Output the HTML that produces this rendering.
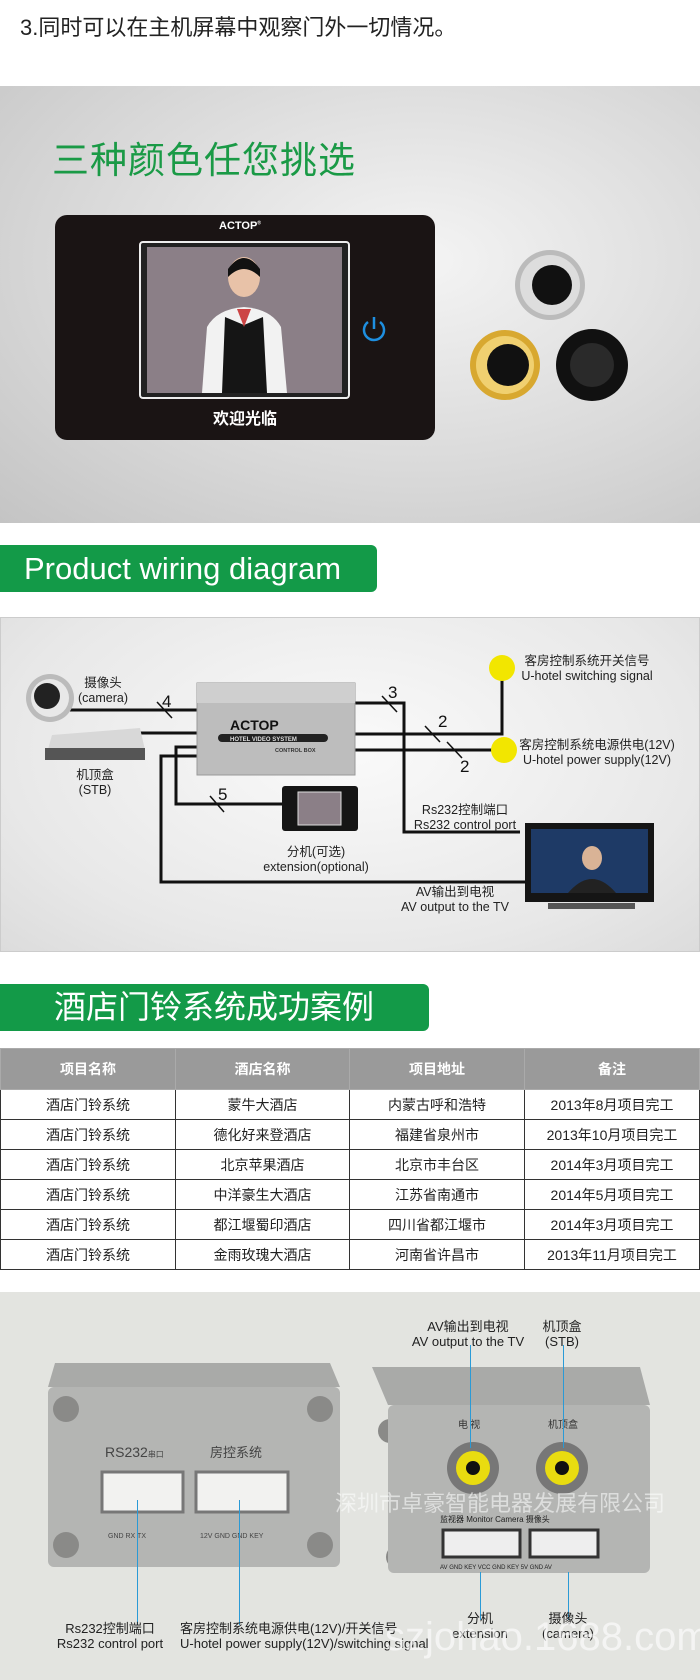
<!DOCTYPE html>
<html><head><meta charset="utf-8"><style>
*{margin:0;padding:0;box-sizing:border-box}
body{width:700px;height:1680px;background:#fff;position:relative;overflow:hidden;font-family:"Liberation Sans","Noto Sans CJK SC",sans-serif;color:#222}
.a{position:absolute}
.c{text-align:center;transform:translateX(-50%);white-space:nowrap}
.lbl{font-size:12.5px;line-height:14.5px;color:#222}
table{border-collapse:collapse;position:absolute;left:0;top:1048px;width:700px}
td,th{border:1px solid #333;text-align:center;font-size:14px;height:30px;font-weight:normal}
th{background:#9a9a9a;color:#fff;font-weight:bold;height:41px;border-color:#aaa;font-size:14px}
.blu{position:absolute;width:1px;background:#2a9ad6}
</style></head><body>
<div class="a" style="left:20px;top:10px;font-size:22px;color:#222">3.同时可以在主机屏幕中观察门外一切情况。</div>

<div class="a" style="left:0;top:86px;width:700px;height:437px;background:radial-gradient(ellipse at 60% 40%,#f4f4f4 0%,#d8d8d8 60%,#c4c4c4 100%)"></div>
<div class="a" style="left:52px;top:130px;font-size:37px;color:#1a9a46;letter-spacing:1px">三种颜色任您挑选</div>
<div class="a" style="left:55px;top:215px;width:380px;height:225px;background:#1a1414;border-radius:12px"></div>
<div class="a c" style="left:240px;top:220px;color:#fff;font-weight:bold;font-size:11px">ACTOP<sup style="font-size:5px">®</sup></div>
<div class="a" style="left:139px;top:241px;width:211px;height:158px;border:2px solid #eee;border-radius:4px;background:#222"></div>
<div class="a" style="left:147px;top:247px;width:195px;height:146px;background:#8b7f87"></div>
<svg class="a" style="left:147px;top:247px" width="195" height="146"><ellipse cx="97" cy="30" rx="16" ry="20" fill="#e8c2a8"/><path d="M81 22 Q97 0 113 22 L113 30 Q97 14 81 30Z" fill="#111"/><path d="M55 146 L60 80 Q70 62 97 60 Q124 62 134 80 L140 146Z" fill="#f2f2f2"/><path d="M75 146 L78 70 L97 78 L116 70 L120 146Z" fill="#151515"/><path d="M90 62 L97 80 L104 62Z" fill="#c44"/></svg>
<div class="a c" style="left:245px;top:405px;color:#fff;font-size:16px;font-weight:bold">欢迎光临</div>
<svg class="a" style="left:360px;top:314px" width="28" height="30"><path d="M8 8 A10 10 0 1 0 20 8" fill="none" stroke="#1e8fe0" stroke-width="2.5"/><line x1="14" y1="3" x2="14" y2="15" stroke="#1e8fe0" stroke-width="2.5"/></svg>
<svg class="a" style="left:460px;top:245px" width="200" height="190">
<circle cx="90" cy="40" r="35" fill="#bbb"/><circle cx="90" cy="40" r="30" fill="#ddd"/><circle cx="92" cy="40" r="20" fill="#111"/>
<circle cx="45" cy="120" r="35" fill="#d8a830"/><circle cx="45" cy="120" r="29" fill="#f0d070"/><circle cx="48" cy="120" r="21" fill="#111"/>
<circle cx="132" cy="120" r="36" fill="#111"/><circle cx="132" cy="120" r="22" fill="#2a2a2a"/>
</svg>

<div class="a" style="left:0;top:545px;width:377px;height:47px;background:#139a48;border-radius:0 6px 6px 0;color:#fff;font-size:31px;line-height:47px;padding-left:24px;white-space:nowrap">Product wiring diagram</div>

<div class="a" style="left:0;top:617px;width:700px;height:335px;background:radial-gradient(ellipse at 50% 40%,#fafafa 0%,#e8e8e8 70%,#dcdcdc 100%);border:1px solid #ccc"></div>
<svg class="a" style="left:0;top:0" width="700" height="960">
<g stroke="#111" stroke-width="3" fill="none">
<line x1="70" y1="710" x2="197" y2="710"/>
<line x1="133" y1="733" x2="197" y2="733"/>
<polyline points="197,747 176,747 176,804 282,804"/>
<polyline points="197,756 161,756 161,882 525,882"/>
<polyline points="355,703 404,703 404,832 520,832"/>
<polyline points="355,734 502,734 502,668"/>
<line x1="355" y1="750" x2="504" y2="750"/>
</g>
<g stroke="#111" stroke-width="1.5">
<line x1="157" y1="702" x2="172" y2="718"/>
<line x1="210" y1="796" x2="224" y2="812"/>
<line x1="382" y1="696" x2="397" y2="712"/>
<line x1="425" y1="726" x2="440" y2="742"/>
<line x1="447" y1="742" x2="462" y2="758"/>
</g>
<g font-size="17" fill="#111" font-family="Liberation Sans,sans-serif">
<text x="162" y="707">4</text><text x="218" y="800">5</text><text x="388" y="698">3</text><text x="438" y="727">2</text><text x="460" y="772">2</text>
</g>
<circle cx="502" cy="668" r="13" fill="#f2e600"/>
<circle cx="504" cy="750" r="13" fill="#f2e600"/>
<circle cx="50" cy="698" r="24" fill="#bbb"/><circle cx="50" cy="698" r="19" fill="#e8e8e8"/><circle cx="47" cy="696" r="13" fill="#222"/>
<path d="M52 735 L140 728 L145 750 L45 760Z" fill="#d8d8d8"/><rect x="45" y="748" width="100" height="12" fill="#555"/>
<rect x="197" y="683" width="158" height="92" fill="#bdbdbd" stroke="#999"/>
<rect x="197" y="683" width="158" height="20" fill="#cfcfcf"/>
<text x="230" y="730" font-size="14" font-weight="bold" fill="#111">ACTOP</text>
<rect x="218" y="734" width="110" height="8" rx="4" fill="#222"/>
<text x="230" y="741" font-size="6" fill="#ddd" font-weight="bold">HOTEL VIDEO SYSTEM</text>
<text x="275" y="752" font-size="5.5" fill="#333" font-weight="bold">CONTROL BOX</text>
<rect x="282" y="786" width="76" height="45" rx="3" fill="#151515"/>
<rect x="298" y="792" width="43" height="33" fill="#8b7f87" stroke="#ddd"/>
<rect x="525" y="823" width="129" height="79" fill="#151515"/><rect x="531" y="829" width="117" height="64" fill="#1e3a66"/>
<ellipse cx="592" cy="858" rx="10" ry="12" fill="#d9b396"/><path d="M568 893 Q592 865 616 893Z" fill="#222"/>
<rect x="548" y="903" width="87" height="6" fill="#555"/>
</svg>
<div class="a c lbl" style="left:103px;top:676px">摄像头<br>(camera)</div>
<div class="a c lbl" style="left:95px;top:768px">机顶盒<br>(STB)</div>
<div class="a c lbl" style="left:316px;top:845px">分机(可选)<br>extension(optional)</div>
<div class="a c lbl" style="left:587px;top:654px">客房控制系统开关信号<br>U-hotel switching signal</div>
<div class="a c lbl" style="left:597px;top:738px">客房控制系统电源供电(12V)<br>U-hotel power supply(12V)</div>
<div class="a c lbl" style="left:465px;top:803px">Rs232控制端口<br>Rs232 control port</div>
<div class="a c lbl" style="left:455px;top:885px">AV输出到电视<br>AV output to the TV</div>

<div class="a" style="left:0;top:984px;width:429px;height:47px;background:#139a48;border-radius:0 6px 6px 0;color:#fff;font-size:32px;line-height:47px;padding-left:54px;white-space:nowrap">酒店门铃系统成功案例</div>

<table>
<tr><th style="width:175px">项目名称</th><th style="width:174px">酒店名称</th><th style="width:175px">项目地址</th><th>备注</th></tr>
<tr><td>酒店门铃系统</td><td>蒙牛大酒店</td><td>内蒙古呼和浩特</td><td>2013年8月项目完工</td></tr>
<tr><td>酒店门铃系统</td><td>德化好来登酒店</td><td>福建省泉州市</td><td>2013年10月项目完工</td></tr>
<tr><td>酒店门铃系统</td><td>北京苹果酒店</td><td>北京市丰台区</td><td>2014年3月项目完工</td></tr>
<tr><td>酒店门铃系统</td><td>中洋豪生大酒店</td><td>江苏省南通市</td><td>2014年5月项目完工</td></tr>
<tr><td>酒店门铃系统</td><td>都江堰蜀印酒店</td><td>四川省都江堰市</td><td>2014年3月项目完工</td></tr>
<tr><td>酒店门铃系统</td><td>金雨玫瑰大酒店</td><td>河南省许昌市</td><td>2013年11月项目完工</td></tr>
</table>

<div class="a" style="left:0;top:1292px;width:700px;height:388px;background:#e3e4e0"></div>
<svg class="a" style="left:0;top:1292px" width="700" height="388">
<path d="M55 71 L330 71 L340 95 L48 95Z" fill="#a9aaa8"/>
<rect x="48" y="95" width="292" height="180" rx="6" fill="#b4b5b3"/>
<g fill="#8a8a88"><circle cx="66" cy="117" r="13"/><circle cx="320" cy="117" r="13"/><circle cx="66" cy="253" r="13"/><circle cx="320" cy="253" r="13"/>
<circle cx="390" cy="139" r="12"/><circle cx="630" cy="139" r="12"/><circle cx="398" cy="265" r="12"/><circle cx="629" cy="265" r="12"/></g>
<text x="105" y="165" font-size="14" fill="#444">RS232<tspan font-size="8">串口</tspan></text>
<text x="210" y="165" font-size="13" fill="#444" font-family="Noto Sans CJK SC">房控系统</text>
<rect x="102" y="180" width="81" height="40" fill="#f2f2f0" stroke="#777" stroke-width="3"/>
<rect x="196" y="180" width="92" height="40" fill="#f2f2f0" stroke="#777" stroke-width="3"/>
<text x="108" y="246" font-size="7" fill="#444">GND  RX  TX</text>
<text x="200" y="246" font-size="7" fill="#444">12V GND GND KEY</text>
<path d="M372 75 L640 75 L650 113 L388 113Z" fill="#a9aaa8"/>
<rect x="388" y="113" width="262" height="168" rx="6" fill="#b4b5b3"/>
<text x="458" y="136" font-size="10" fill="#333" font-family="Noto Sans CJK SC">电 视</text>
<text x="548" y="136" font-size="10" fill="#333" font-family="Noto Sans CJK SC">机顶盒</text>
<g><circle cx="473" cy="176" r="26" fill="#777"/><circle cx="473" cy="176" r="17" fill="#e9dc10"/><circle cx="473" cy="176" r="7" fill="#111"/>
<circle cx="562" cy="176" r="26" fill="#777"/><circle cx="562" cy="176" r="17" fill="#e9dc10"/><circle cx="562" cy="176" r="7" fill="#111"/></g>
<rect x="443" y="238" width="77" height="27" fill="#eee" stroke="#333" stroke-width="3"/>
<rect x="530" y="238" width="68" height="27" fill="#eee" stroke="#333" stroke-width="3"/>
<text x="440" y="230" font-size="8" fill="#222">监视器 Monitor   Camera 摄像头</text>
<text x="440" y="277" font-size="6" fill="#222">AV GND KEY VCC GND  KEY 5V GND AV</text>
</svg>
<div class="blu" style="left:137px;top:1500px;height:125px"></div>
<div class="blu" style="left:239px;top:1500px;height:125px"></div>
<div class="blu" style="left:470px;top:1345px;height:103px"></div>
<div class="blu" style="left:563px;top:1345px;height:103px"></div>
<div class="blu" style="left:480px;top:1572px;height:48px"></div>
<div class="blu" style="left:568px;top:1572px;height:48px"></div>
<div class="a" style="left:335px;top:1486px;font-size:22px;color:rgba(255,255,255,.55);white-space:nowrap">深圳市卓豪智能电器发展有限公司</div>
<div class="a c lbl" style="left:110px;top:1622px;font-size:13px">Rs232控制端口<br>Rs232 control port</div>
<div class="a lbl" style="left:180px;top:1622px;font-size:13px">客房控制系统电源供电(12V)/开关信号<br>U-hotel power supply(12V)/switching signal</div>
<div class="a c lbl" style="left:468px;top:1320px;font-size:13px">AV输出到电视<br>AV output to the TV</div>
<div class="a c lbl" style="left:562px;top:1320px;font-size:13px">机顶盒<br>(STB)</div>
<div class="a c lbl" style="left:480px;top:1612px;font-size:13px">分机<br>extension</div>
<div class="a c lbl" style="left:568px;top:1612px;font-size:13px">摄像头<br>(camera)</div>
<div class="a" style="left:385px;top:1615px;font-size:40px;color:rgba(255,255,255,.6);white-space:nowrap">szjohao.1688.com</div>
</body></html>
